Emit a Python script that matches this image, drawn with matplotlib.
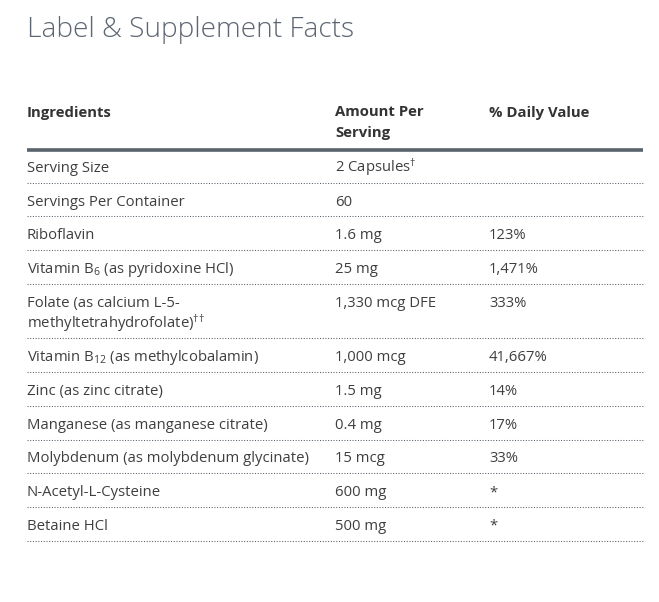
import matplotlib.pyplot as plt

plt.rcParams['font.family'] = ['Open Sans', 'DejaVu Sans']
plt.rcParams['mathtext.fontset'] = 'custom'
plt.rcParams['mathtext.rm'] = 'Open Sans'
plt.rcParams['mathtext.it'] = 'Open Sans'
plt.rcParams['mathtext.bf'] = 'Open Sans:bold'

title = 'Label & Supplement Facts'
headers = ['Ingredients', 'Amount Per\nServing', '% Daily Value']
ingredients = [
    'Serving Size',
    'Servings Per Container',
    'Riboflavin',
    'Vitamin B$_{6}$ (as pyridoxine HCl)',
    'Folate (as calcium L-5-\nmethyltetrahydrofolate)$^{\u2020\u2020}$',
    'Vitamin B$_{12}$ (as methylcobalamin)',
    'Zinc (as zinc citrate)',
    'Manganese (as manganese citrate)',
    'Molybdenum (as molybdenum glycinate)',
    'N-Acetyl-L-Cysteine',
    'Betaine HCl',
]
amounts = ['2 Capsules$^{\u2020}$', '60', '1.6 mg', '25 mg', '1,330 mcg DFE',
           '1,000 mcg', '1.5 mg', '0.4 mg', '15 mcg', '600 mg', '500 mg']
daily_values = ['', '', '123%', '1,471%', '333%', '41,667%', '14%', '17%',
                '33%', '*', '*']

fig = plt.figure(figsize=(6.59, 6.02), dpi=100)
ax = fig.add_axes([0, 0, 1, 1])
ax.set_xlim(0, 659)
ax.set_ylim(602, 0)
ax.axis('off')

txt = '#3f3f3f'
col_x = [27, 335, 489]
x_end = 643
fs = 10.7
line_gap = 21

ax.text(27, 37, title, fontsize=20.2, color='#5d6672', fontweight='light',
        va='baseline', ha='left')

# header
for x, h in zip(col_x, headers):
    for k, part in enumerate(h.split('\n')):
        ax.text(x, 116.5 + k * line_gap, part, fontsize=fs, fontweight='bold',
                color='#333333', va='baseline', ha='left')
ax.plot([col_x[0], x_end], [149.5, 149.5], color='#59636c', lw=2.6,
        solid_capstyle='butt')

# rows
y = 149
for ing, amt, dv in zip(ingredients, amounts, daily_values):
    nlines = ing.count('\n') + 1
    h = 33.7 + (nlines - 1) * line_gap
    base = y + 22.8
    for k, part in enumerate(ing.split('\n')):
        ax.text(col_x[0], base + k * line_gap, part, fontsize=fs, color=txt,
                va='baseline', ha='left')
    ax.text(col_x[1], base, amt, fontsize=fs, color=txt, va='baseline', ha='left')
    ax.text(col_x[2], base, dv, fontsize=fs, color=txt, va='baseline', ha='left')
    y += h
    ax.plot([col_x[0], x_end], [y, y], color='#55606b', lw=0.75,
            linestyle=(0, (1, 1.6)), solid_capstyle='butt')

fig.savefig('out.png', dpi=100)
